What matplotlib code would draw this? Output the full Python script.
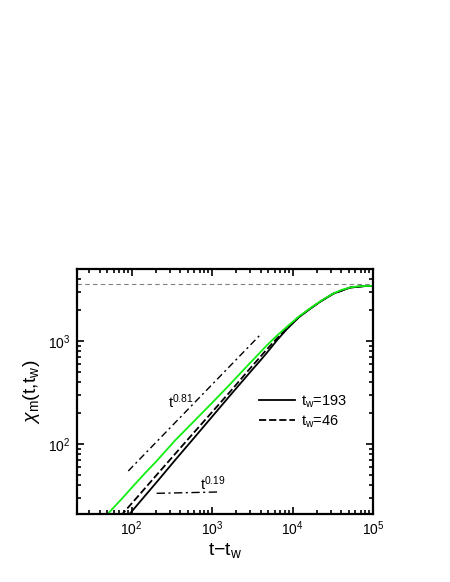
import matplotlib
matplotlib.use("Agg")
import matplotlib.pyplot as plt
from matplotlib.ticker import LogLocator, NullFormatter

plt.rcParams['font.family'] = ['Liberation Sans', 'DejaVu Sans']
plt.rcParams['mathtext.fontset'] = 'custom'
plt.rcParams['mathtext.rm'] = 'Liberation Sans'
plt.rcParams['mathtext.it'] = 'Liberation Sans:italic'
plt.rcParams['mathtext.bf'] = 'Liberation Sans:bold'

# ---- data ----
t_green = [48, 60, 80, 100, 150, 200, 346, 600, 1086, 1700, 2445, 3500, 4775, 6500, 8470,
           12000, 16500, 22000, 27000, 32100, 40000, 51900, 65000, 80000, 100000]
chi_green = [20, 24.2, 30.8, 37.5, 53, 67, 108, 167, 268, 385, 522, 700, 905, 1140, 1370,
             1730, 2075, 2420, 2680, 2890, 3120, 3310, 3395, 3420, 3425]

t_tw193 = [90, 150, 220, 346, 532, 1000, 1700, 2958, 4000, 4775, 6500, 8470, 12000, 16500,
           22000, 32100, 51900, 80000, 100000]
chi_tw193 = [20, 32, 45.5, 69.5, 103, 184, 300, 496, 650, 765, 1030, 1300, 1700, 2050,
             2400, 2880, 3300, 3415, 3420]

t_tw46 = [73, 120, 200, 346, 532, 1000, 1700, 2958, 4775, 6500, 8470, 12000, 16500,
          22000, 32100, 51900, 80000, 100000]
chi_tw46 = [20, 31, 49, 79.8, 117, 204, 326, 540, 827, 1075, 1335, 1712, 2060,
            2410, 2885, 3305, 3418, 3422]

guide081_t = [91, 4140]
guide081_chi = [54.7, 1188]
guide019_t = [205, 1194]
guide019_chi = [33.2, 34.2]

plateau = 3550

xlim = (20.7, 1e5)
ylim = (20.9, 5000)

fig = plt.figure(figsize=(4.5, 5.82), dpi=100)
ax = fig.add_axes([0.170, 0.1168, 0.659, 0.421])

ax.set_xscale('log')
ax.set_yscale('log')

ax.axhline(plateau, color='#808080', lw=0.8, ls=(0, (4, 3)))
ax.plot(guide081_t, guide081_chi, color='black', lw=1.0, ls=(0, (5, 2.5, 1.5, 2.5)))
ax.plot(guide019_t, guide019_chi, color='black', lw=1.0, ls=(0, (6, 2.5, 1.5, 2.5)))

ax.plot(t_tw193, chi_tw193, color='black', lw=1.3, label=r'$\mathregular{t_w}$=193')
ax.plot(t_tw46, chi_tw46, color='black', lw=1.3, ls=(0, (4, 1.6)), label=r'$\mathregular{t_w}$=46')
ax.plot(t_green, chi_green, color='#11ee11', lw=1.3)

ax.set_xlim(*xlim)
ax.set_ylim(*ylim)

ax.text(285, 222, r'$\mathregular{t^{0.81}}$', fontsize=10.5, ha='left', va='baseline')
ax.text(713, 35.7, r'$\mathregular{t^{0.19}}$', fontsize=10.5, ha='left', va='baseline')

leg = ax.legend(loc='upper left', bbox_to_anchor=(0.615, 0.493), frameon=False,
                fontsize=10.5, handlelength=2.45, handletextpad=0.45,
                labelspacing=0.25, borderpad=0, borderaxespad=0)

for ax_ in [ax.xaxis, ax.yaxis]:
    ax_.set_major_locator(LogLocator(base=10, numticks=10))
    ax_.set_minor_locator(LogLocator(base=10, subs=range(2, 10), numticks=20))
    ax_.set_minor_formatter(NullFormatter())

ax.tick_params(which='both', direction='in', top=True, right=True, width=1.2)
ax.tick_params(which='major', length=5, labelsize=10, pad=4)
ax.tick_params(which='minor', length=3)
for s in ax.spines.values():
    s.set_linewidth(1.6)

ax.set_xlabel(r'$\mathregular{t{-}t_w}$', fontsize=14, labelpad=2)
ax.set_ylabel(r'$\chi_{\mathregular{m}}\mathregular{(t{,}t_w)}$', fontsize=14, labelpad=5)

fig.savefig('out.png', dpi=100)
